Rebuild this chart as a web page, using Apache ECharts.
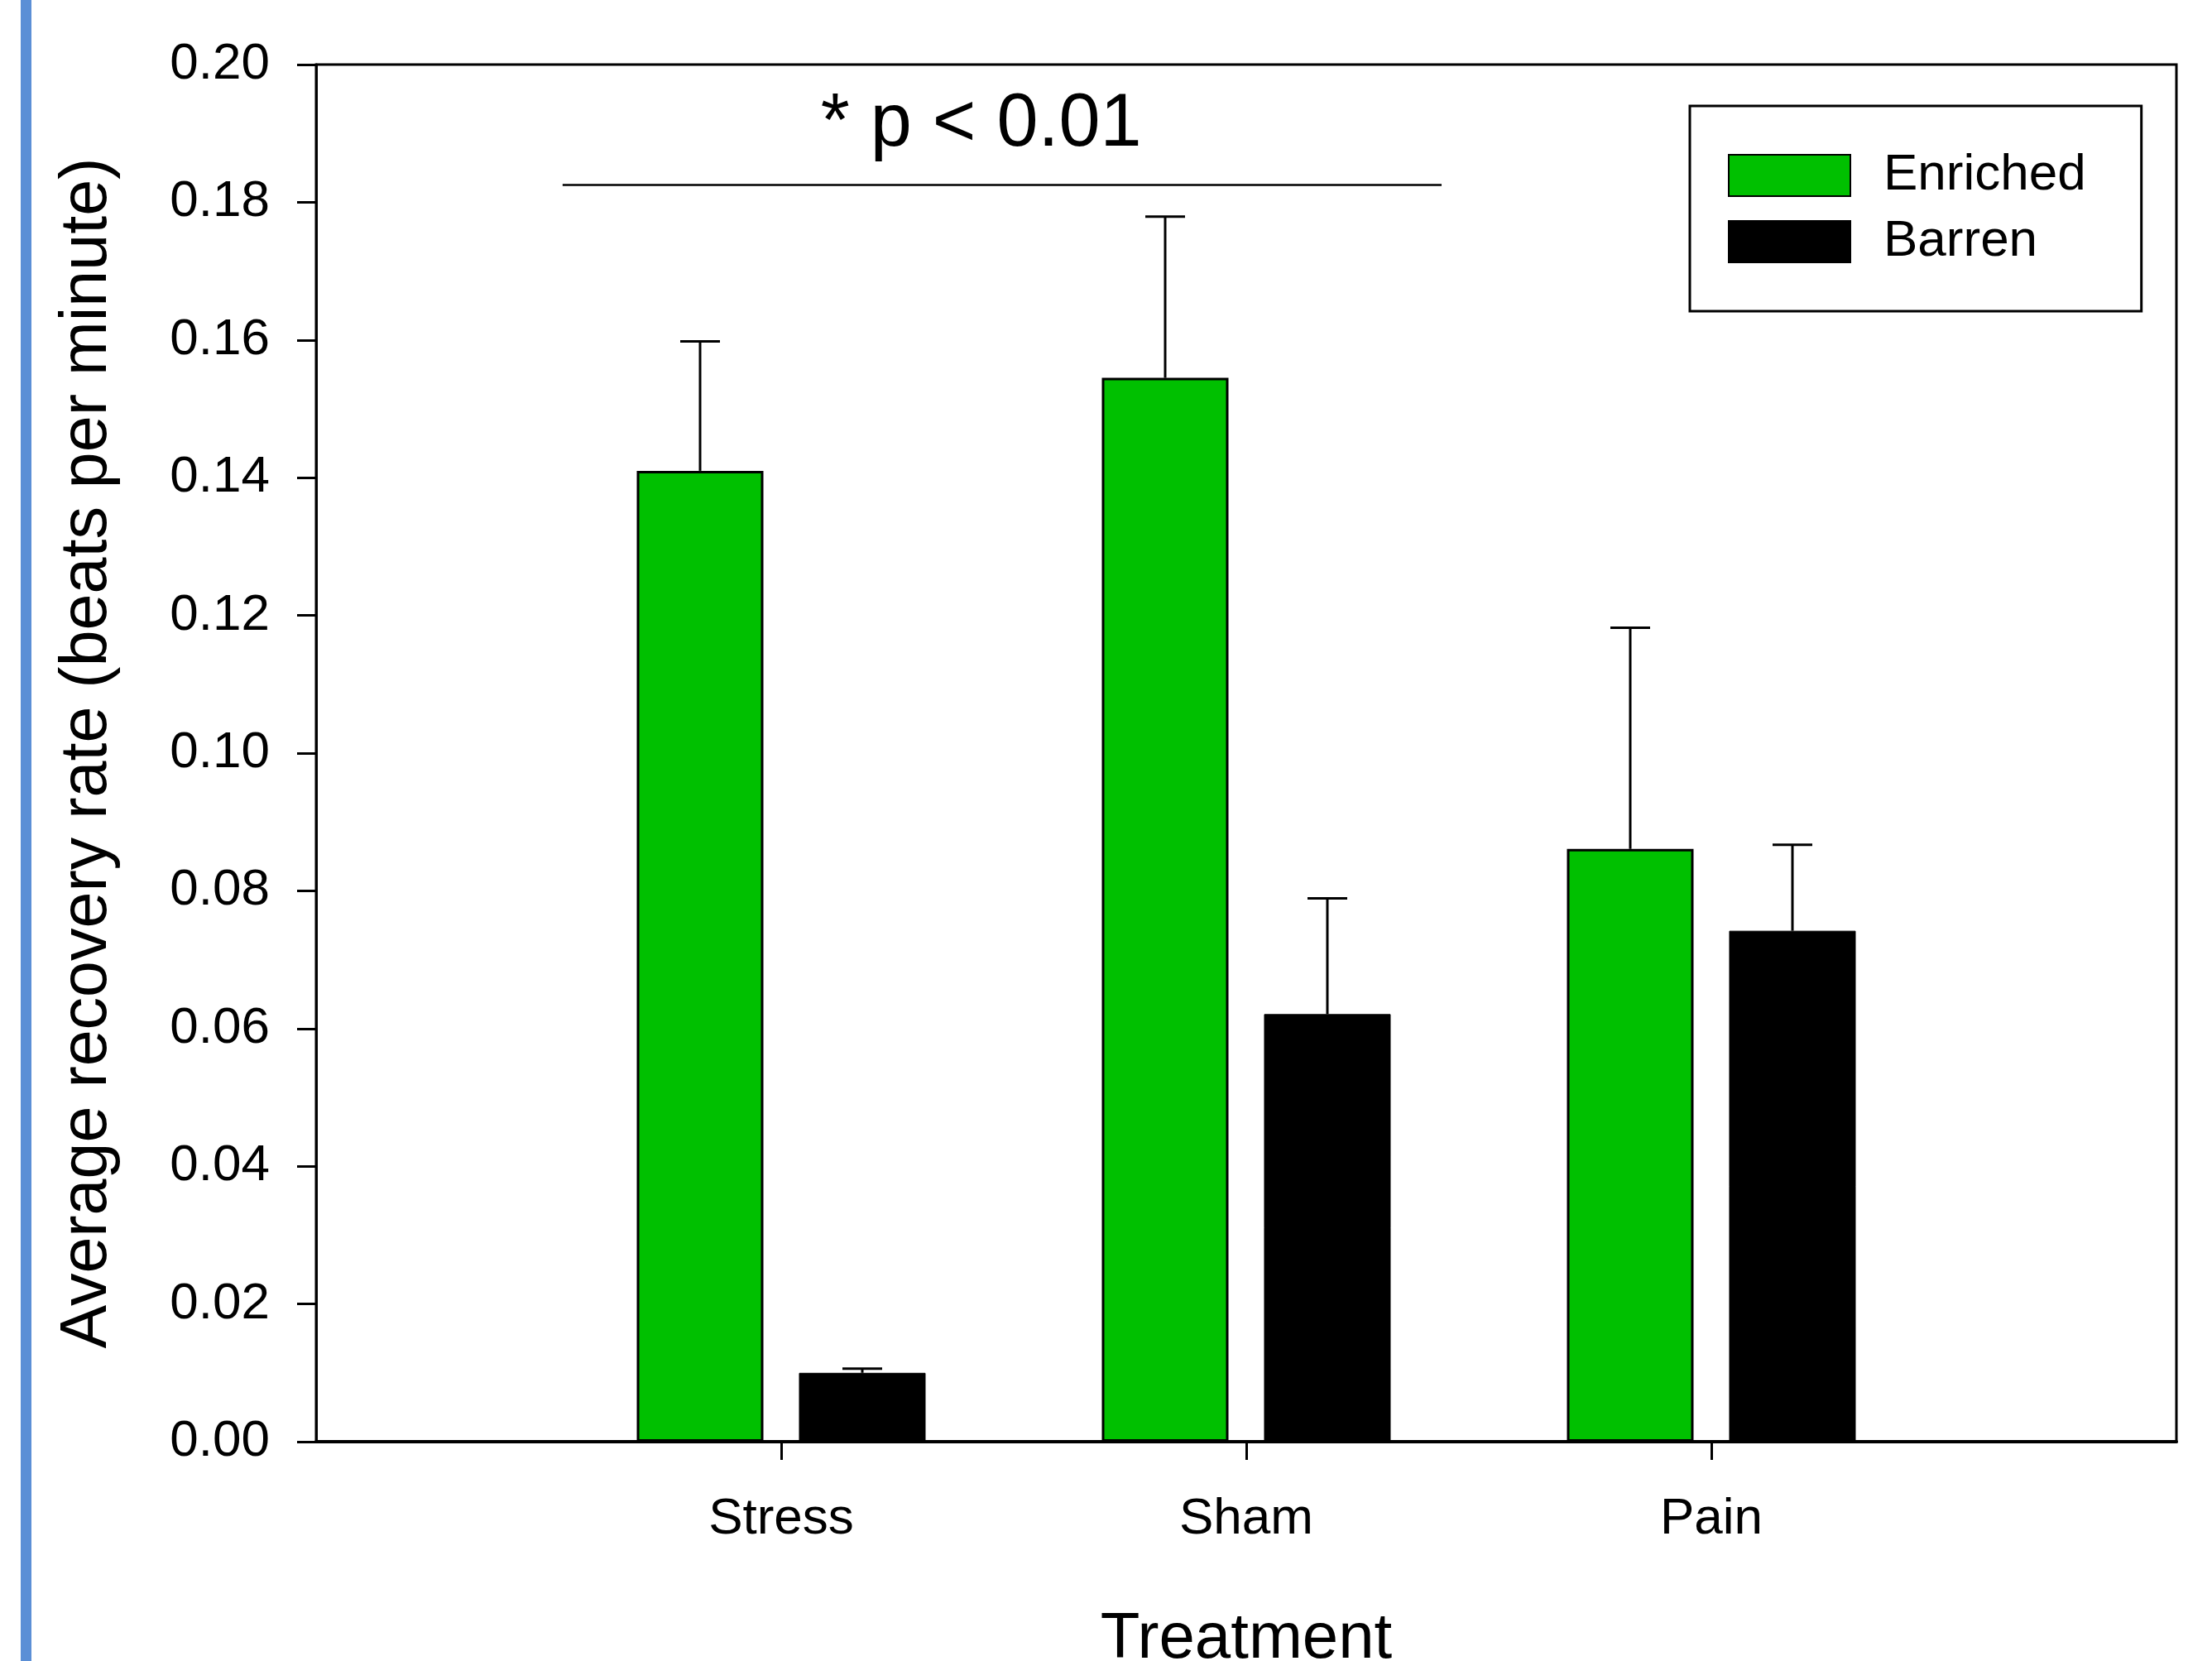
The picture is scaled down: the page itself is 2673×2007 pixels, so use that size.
<!DOCTYPE html>
<html>
<head>
<meta charset="utf-8">
<script src="https://cdn.jsdelivr.net/npm/echarts@6/dist/echarts.min.js"></script>
<style>
  html, body { margin: 0; padding: 0; background: #fff; }
  #container { width: 2673px; height: 2007px; }
</style>
</head>
<body>
<div id="container"></div>
<script>
// data
var categories = ['', 'Stress', 'Sham', 'Pain', ''];
var enriched = [null, 0.1410, 0.1545, 0.0861, null];
var enrichedUpper = [null, 0.1598, 0.1779, 0.1182, null];
var barren = [null, 0.0100, 0.0621, 0.0742, null];
var barrenUpper = [null, 0.0106, 0.0789, 0.0867, null];

// significance bracket, in (position, value) units of the plot
var sigLineX = [0.53, 2.42];
var sigLineY = 0.1825;
var sigText = '* p < 0.01';
var sigTextPos = [1.43, 0.1912];

var FONT = "'Liberation Sans', Arial, sans-serif";
var BAR_W = 153;
var BAR_GAP = 43;

var dom = document.getElementById('container');
var myChart = echarts.init(dom, null, { renderer: 'canvas' });

function errorData(vals, upper) {
    var out = [];
    for (var i = 0; i < vals.length; i++) {
        if (vals[i] != null) out.push([i, vals[i], upper[i]]);
    }
    return out;
}

function errorRenderer(offset) {
    return function (params, api) {
        var x = api.value(0);
        var base = api.coord([x, api.value(1)]);
        var top = api.coord([x, api.value(2)]);
        var cx = base[0] + offset;
        var half = 24;
        var st = { stroke: '#000', lineWidth: 3 };
        return {
            type: 'group',
            children: [
                { type: 'line', shape: { x1: cx, y1: base[1], x2: cx, y2: top[1] }, style: st },
                { type: 'line', shape: { x1: cx - half, y1: top[1], x2: cx + half, y2: top[1] }, style: st }
            ]
        };
    };
}

var off = (BAR_W + BAR_GAP) / 2;

var option = {
    animation: false,
    backgroundColor: '#fff',
    textStyle: { fontFamily: FONT, color: '#000' },
    graphic: [{
        type: 'rect',
        left: 25, top: 0,
        shape: { width: 13, height: 2007 },
        style: { fill: '#5b8fd6' }
    }],
    grid: {
        left: 382, right: 43, top: 78, bottom: 265,
        outerBoundsMode: 'none',
        containLabel: false,
        show: true, borderColor: '#000', borderWidth: 3,
        backgroundColor: 'transparent'
    },
    legend: {
        data: ['Enriched', 'Barren'],
        orient: 'vertical',
        left: 2042, top: 128,
        itemWidth: 147, itemHeight: 50, itemGap: 18,
        icon: 'rect',
        borderColor: '#000', borderWidth: 3,
        padding: [53, 67, 53, 46],
        selectedMode: false,
        textStyle: { fontSize: 62, fontFamily: FONT, color: '#000', padding: [0, 0, 0, 35] }
    },
    xAxis: [{
        type: 'category',
        data: categories,
        boundaryGap: false,
        name: 'Treatment',
        nameLocation: 'middle',
        nameGap: 200,
        nameTextStyle: { fontSize: 78, fontFamily: FONT, color: '#000' },
        axisLine: { show: true, lineStyle: { color: '#000', width: 4 } },
        axisTick: {
            show: true, inside: false, length: 22,
            interval: function (i, v) { return v !== ''; },
            lineStyle: { color: '#000', width: 3 }
        },
        axisLabel: { interval: 0, fontSize: 62, margin: 63, color: '#000', fontFamily: FONT },
        splitLine: { show: false }
    }, {
        type: 'value', min: 0, max: 4, show: false
    }],
    yAxis: {
        type: 'value',
        min: 0, max: 0.2, interval: 0.02,
        name: 'Average recovery rate (beats per minute)',
        nameLocation: 'middle',
        nameRotate: 90,
        nameGap: 236,
        nameTextStyle: { fontSize: 79, fontFamily: FONT, color: '#000' },
        axisLine: { show: true, lineStyle: { color: '#000', width: 3 } },
        axisTick: { show: true, inside: false, length: 23, lineStyle: { color: '#000', width: 3 } },
        axisLabel: {
            fontSize: 62, margin: 56, color: '#000', fontFamily: FONT,
            formatter: function (v) { return v.toFixed(2); }
        },
        splitLine: { show: false }
    },
    series: [{
        name: 'Enriched',
        type: 'bar',
        data: enriched,
        barWidth: BAR_W,
        barGap: (BAR_GAP / BAR_W * 100).toFixed(1) + '%',
        itemStyle: { color: '#00c000', borderColor: '#000', borderWidth: 3 }
    }, {
        name: 'Barren',
        type: 'bar',
        data: barren,
        barWidth: BAR_W,
        itemStyle: { color: '#000', borderColor: '#000', borderWidth: 1 }
    }, {
        type: 'custom',
        data: errorData(enriched, enrichedUpper),
        renderItem: errorRenderer(-off),
        z: 5, silent: true
    }, {
        type: 'custom',
        data: errorData(barren, barrenUpper),
        renderItem: errorRenderer(off),
        z: 5, silent: true
    }, {
        type: 'line',
        xAxisIndex: 1,
        data: [[sigLineX[0], sigLineY], [sigLineX[1], sigLineY]],
        symbol: 'none',
        silent: true,
        lineStyle: { color: '#000', width: 2.5 }
    }, {
        type: 'scatter',
        xAxisIndex: 1,
        data: [sigTextPos],
        symbolSize: 0,
        silent: true,
        itemStyle: { opacity: 1 },
        label: {
            show: true, position: 'inside',
            formatter: sigText,
            fontSize: 90, fontFamily: FONT, color: '#000'
        }
    }]
};

if (option && typeof option === 'object') {
    myChart.setOption(option, true);
}
</script>
</body>
</html>
